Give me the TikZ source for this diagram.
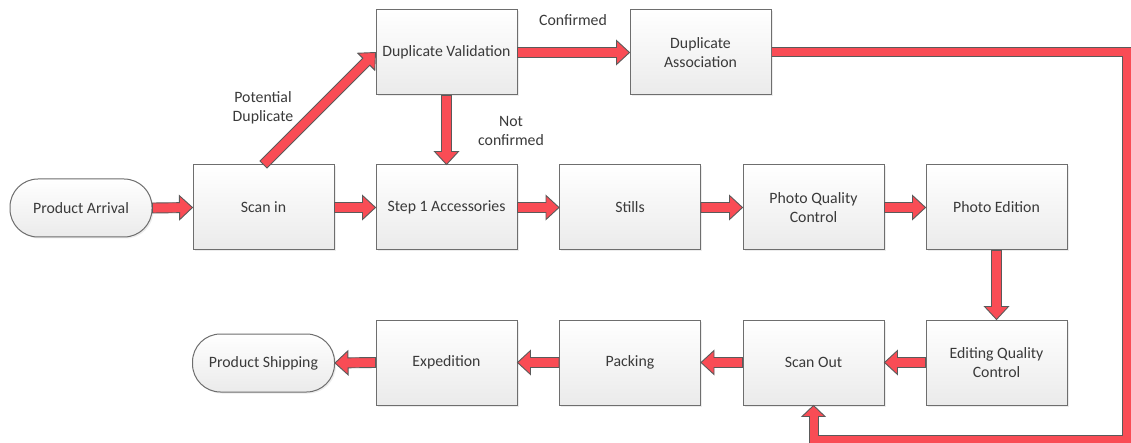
\documentclass[tikz,border=0pt]{standalone}
\usepackage{fontspec}
\setmainfont{Carlito}
\usetikzlibrary{calc,shadows}

\definecolor{arrowred}{HTML}{F94C55}
\definecolor{arrowline}{HTML}{5A5A5A}
\definecolor{boxline}{HTML}{6E6E6E}
\definecolor{txt}{HTML}{3A3A3A}

% Block arrow (outlined polygon) from point #1 to point #2
\newcommand\blockarrow[2]{%
  \draw[flowarrow] let \p1=(#1), \p2=(#2), \p3=($(\p2)!13pt!(\p1)$) in
    ($(\p1)!5pt!90:(\p2)$) -- ($(\p3)!5pt!90:(\p2)$) -- ($(\p3)!12pt!90:(\p2)$)
    -- (\p2)
    -- ($(\p3)!12pt!-90:(\p2)$) -- ($(\p3)!5pt!-90:(\p2)$) -- ($(\p1)!5pt!-90:(\p2)$)
    -- cycle;}

\begin{document}
\begin{tikzpicture}[x=1pt,y=-1pt,
  font=\fontsize{15.8}{19}\selectfont, text=txt,
  stepbox/.style={draw=boxline, line width=1pt, top color=white, bottom color=gray!16,
    minimum width=141pt, minimum height=85pt, inner sep=2pt, align=center,
    drop shadow={opacity=0.15, shadow xshift=1.5pt, shadow yshift=-1.5pt}},
  terminal/.style={stepbox, rounded corners=28pt, minimum width=142pt, minimum height=58pt},
  flowarrow/.style={draw=arrowline, fill=arrowred, line width=0.9pt, line join=miter},
  lbl/.style={align=center, inner sep=0pt}]

\fill[white] (0,0) rectangle (1131,443);
\useasboundingbox (0,0) rectangle (1131,443);

% top row
\node[stepbox] (dupval) at (446.5,52.5) {Duplicate Validation};
\node[stepbox] (assoc)  at (700.5,52.5) {Duplicate\\Association};

% middle row
\node[terminal] (arrival) at (81,208) {Product Arrival};
\node[stepbox] (scanin)  at (263.5,207.5) {Scan in};
\node[stepbox] (step1)   at (446.5,207.5) {Step 1 Accessories};
\node[stepbox] (stills)  at (630,207.5) {Stills};
\node[stepbox] (pqc)     at (813.5,207.5) {Photo Quality\\Control};
\node[stepbox] (edition) at (996.5,207.5) {Photo Edition};

% bottom row
\node[stepbox] (eqc)      at (996.5,362.5) {Editing Quality\\Control};
\node[stepbox] (scanout)  at (813.5,362.5) {Scan Out};
\node[stepbox] (packing)  at (630,362.5) {Packing};
\node[stepbox] (expedit)  at (446.5,362.5) {Expedition};
\node[terminal] (shipping) at (263.5,363) {Product Shipping};

% branch labels
\node[lbl] (lconf) at (573,20) {Confirmed};
\node[lbl] (lpot)  at (263,108) {Potential\\Duplicate};
\node[lbl] (lnot)  at (511,131) {Not\\confirmed};

% main flow
\blockarrow{arrival.east}{scanin.west}
\blockarrow{scanin.north}{dupval.west}
\blockarrow{dupval.east}{assoc.west}
\blockarrow{dupval.south}{step1.north}
\blockarrow{scanin.east}{step1.west}
\blockarrow{step1.east}{stills.west}
\blockarrow{stills.east}{pqc.west}
\blockarrow{pqc.east}{edition.west}
\blockarrow{edition.south}{eqc.north}
\blockarrow{eqc.west}{scanout.east}
\blockarrow{scanout.west}{packing.east}
\blockarrow{packing.west}{expedit.east}
\blockarrow{expedit.west}{shipping.east}

% return line from the association step back to scan out
\coordinate (loopcorner) at (1127,440);
\draw[arrowline, line width=10pt, line join=miter, shorten >=11pt]
  (assoc.east) -| (loopcorner) -| (scanout.south);
\draw[flowarrow] ($(scanout.south)+(-11.5,11)$) -- (scanout.south)
  -- ($(scanout.south)+(11.5,11)$) -- cycle;
\draw[arrowred, line width=8pt, line join=miter, shorten >=10pt]
  (assoc.east) -| (loopcorner) -| (scanout.south);

\end{tikzpicture}
\end{document}
